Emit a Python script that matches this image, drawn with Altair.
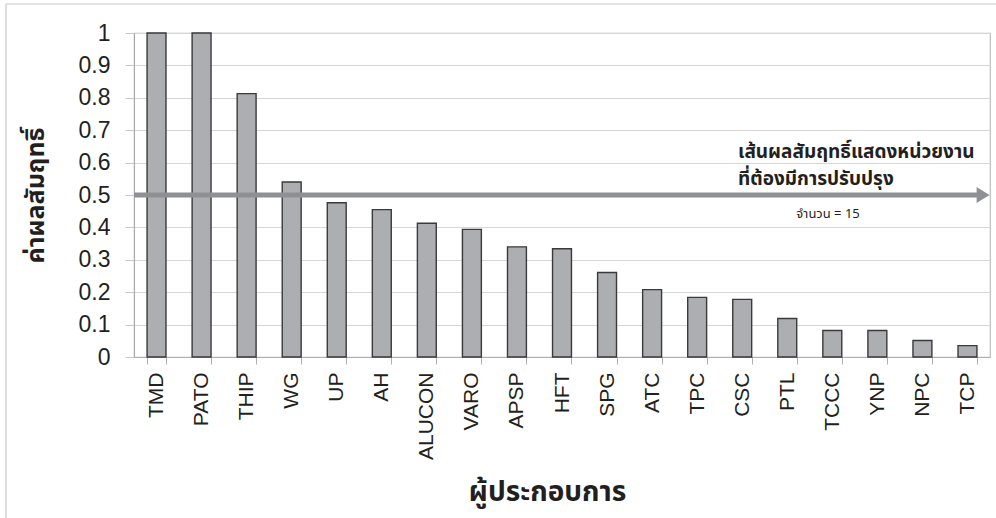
import altair as alt
import pandas as pd

# Achievement score per operator
operators = ["TMD", "PATO", "THIP", "WG", "UP", "AH", "ALUCON", "VARO", "APSP", "HFT",
             "SPG", "ATC", "TPC", "CSC", "PTL", "TCCC", "YNP", "NPC", "TCP"]
scores = [1.0, 1.0, 0.813, 0.540, 0.476, 0.455, 0.413, 0.394, 0.340, 0.334,
          0.261, 0.208, 0.184, 0.178, 0.119, 0.082, 0.082, 0.051, 0.035]
y_ticks = [0, 0.1, 0.2, 0.3, 0.4, 0.5, 0.6, 0.7, 0.8, 0.9, 1.0]

threshold = 0.5
note_lines = ["เส้นผลสัมฤทธิ์แสดงหน่วยงาน", "ที่ต้องมีการปรับปรุง"]
count_note = "จำนวน = 15"

df = pd.DataFrame({"operator": operators, "score": scores})
thr = pd.DataFrame({"score": [threshold]})

W, H = 856, 324
TH = "Noto Sans Thai, Noto Sans, Liberation Sans, sans-serif"
AR = "Liberation Sans, Arial, sans-serif"
ARROW = "#8E9094"

y_scale = alt.Scale(domain=[0, 1], nice=False)

x_enc = alt.X(
    "operator:N", sort=operators,
    scale=alt.Scale(paddingInner=0.58, paddingOuter=0.29),
    axis=alt.Axis(
        title="ผู้ประกอบการ", titleFont=TH, titleFontSize=28, titleFontWeight="bold",
        titleColor="#231F20", titleX=413, titleY=135, titleBaseline="middle",
        titleAlign="center",
        labelAngle=-90, labelFont=AR, labelFontSize=21, labelColor="#231F20",
        labelPadding=8, labelOverlap=False, tickBand="extent", tickSize=7,
        tickColor="#B0B0B0", domainColor="#B0B0B0", grid=False,
    ),
)
y_enc = alt.Y(
    "score:Q", scale=y_scale,
    axis=alt.Axis(
        values=y_ticks, format="~g",
        title="ค่าผลสัมฤทธิ์", titleFont=TH, titleFontSize=25, titleFontWeight="bold",
        titleColor="#231F20", titleX=-99, titleY=162, titleBaseline="middle",
        titleAlign="center", titleAngle=270,
        labelFont=AR, labelFontSize=23, labelColor="#231F20", labelPadding=15,
        labelOverlap=False, labelFlush=False,
        tickSize=9, tickColor="#C8C8C8", domainColor="#A8A8A8",
        gridColor="#D6D6D6", gridWidth=1.2,
    ),
)

bars = alt.Chart(df).mark_bar(
    fill="#ADAEB2", stroke="#3A3A3A", strokeWidth=1.4
).encode(x=x_enc, y=y_enc)

# outer frame around the figure
frame = alt.Chart(thr).mark_rect(
    fill=None, stroke="#C8C8C8", strokeWidth=1.2
).encode(x=alt.value(-128), x2=alt.value(W + 60), y=alt.value(-29), y2=alt.value(H + 200))

# threshold arrow, sharing the bars' y scale and axis
arrow_line = alt.Chart(thr).mark_rule(
    color=ARROW, strokeWidth=5
).encode(x=alt.value(0), x2=alt.value(W - 13), y=y_enc)

arrow_head = alt.Chart(thr).mark_point(
    shape="M -0.8 -1 L 0.8 0 L -0.8 1 Z", filled=True, fill=ARROW,
    strokeWidth=0, size=256, opacity=1
).encode(x=alt.value(W - 7), y=y_enc)

note_style = dict(align="left", baseline="middle", font=TH, fontSize=19,
                  fontWeight="bold", color="#231F20")
note1 = alt.Chart(pd.DataFrame({"t": [note_lines[0]]})).mark_text(**note_style).encode(
    x=alt.value(604), y=alt.value(119), text="t:N")
note2 = alt.Chart(pd.DataFrame({"t": [note_lines[1]]})).mark_text(**note_style).encode(
    x=alt.value(604), y=alt.value(146), text="t:N")

count_text = alt.Chart(pd.DataFrame({"t": [count_note]})).mark_text(
    align="center", baseline="middle", font=TH, fontSize=13, color="#231F20"
).encode(x=alt.value(694), y=alt.value(181), text="t:N")

chart = alt.layer(bars, frame, arrow_line, arrow_head, note1, note2, count_text).properties(
    width=W, height=H,
    autosize=alt.AutoSizeParams(type="none"),
    padding={"left": 134, "top": 33, "right": 6, "bottom": 161},
    background="white",
).configure_view(stroke="#BDBDBD", strokeWidth=1.2)

chart.save("out.html", embed_options={"renderer": "svg", "actions": False})
